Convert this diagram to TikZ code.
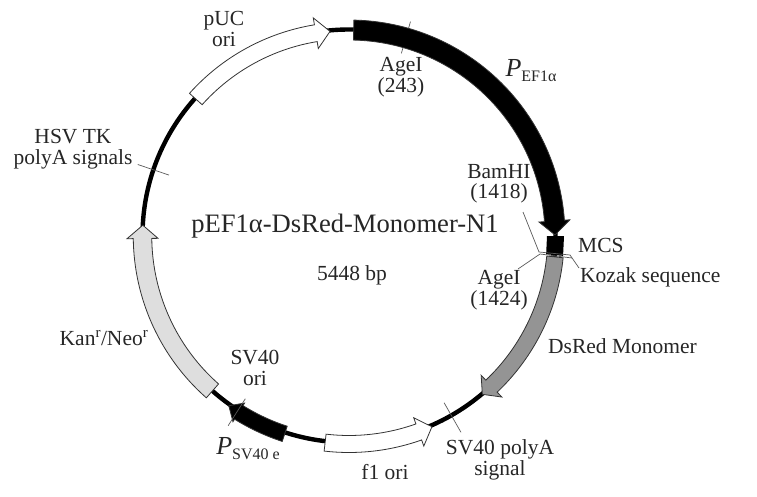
\documentclass[tikz,border=0pt]{standalone}
\usepackage{fontspec}
\setmainfont{Liberation Serif}
\newcommand{\ArcArrow}[7]{% tail, tip, headbase, radius, body width, head width, fill
  \pgfmathsetmacro{\ro}{#4+#5/2}\pgfmathsetmacro{\ri}{#4-#5/2}
  \pgfmathsetmacro{\hoo}{#4+#6/2}\pgfmathsetmacro{\hii}{#4-#6/2}
  \draw[arrowline,fill=#7] (#1:\ro pt) arc[start angle=#1,end angle=#3,radius=\ro pt]
    -- (#3:\hoo pt) -- (#2:#4 pt) -- (#3:\hii pt) -- (#3:\ri pt)
    arc[start angle=#3,end angle=#1,radius=\ri pt] -- cycle;}
\newcommand{\Tick}[3]{\draw[tickline] (#1:#2 pt) -- (#1:#3 pt);}
\newcommand{\PLab}[2]{\fontsize{26}{28}\selectfont\textit{P}\raisebox{-5pt}{\fontsize{16}{18}\selectfont #1#2}}
\tikzset{
  x=1pt,y=1pt,
  arrowline/.style={draw=black!80,line width=0.8pt,line join=miter},
  tickline/.style={draw=black!65,line width=0.7pt},
  lab/.style={font=\fontsize{21.5}{20.5}\selectfont,align=center,inner sep=0pt,text=black!85},
  backbone/.style={draw=black,line width=4.4pt}
}
\begin{document}
\begin{tikzpicture}
\useasboundingbox (0,0) rectangle (757,-497);
\begin{scope}[shift={(349,-236)}]
\draw[backbone] (0,0) circle[radius=206.5pt];
\Tick{74}{190}{223}
\Tick{161.3}{190}{223}
\Tick{299.7}{192}{226}
\ArcArrow{138.2}{95.3}{99.3}{205.5}{17}{31}{white}
\ArcArrow{88.7}{0.3}{4.2}{206}{20}{31}{black}
\ArcArrow{-5.8}{-49.9}{-46.5}{207}{16.5}{30}{black!42}
\ArcArrow{228.6}{177}{180.7}{206.5}{18.5}{31}{black!13}
\ArcArrow{263.4}{293.5}{289.6}{208}{17}{30}{white}
\ArcArrow{252}{234.7}{238}{208}{16}{22}{black}
\fill[black] (0:198pt) -- (0:215pt) -- (-5.3:215pt) -- (-5.3:198pt) -- cycle;
\Tick{237.5}{193}{225}
\end{scope}
\coordinate (bamA) at (523,-212);
\coordinate (bamB) at (539,-252);
\coordinate (kozB) at (570,-255);
\coordinate (kozC) at (579,-268);
\draw[tickline] (bamA) -- (bamB) -- (kozB) -- (kozC);
\coordinate (ageA) at (518,-269);
\coordinate (ageB) at (540,-254);
\coordinate (ageC) at (572,-258);
\draw[tickline] (ageA) -- (ageB) -- (ageC);
\node[lab,font=\fontsize{26.6}{28}\selectfont] (title) at (345,-226) {pEF1α-DsRed-Monomer-N1};
\node[lab] (bp) at (352,-275) {5448 bp};
\node[lab] (puc) at (224,-29) {pUC\\ori};
\node[lab] (age1) at (401,-77) {AgeI\\(243)};
\node[lab] (pef) at (531,-71) {\PLab{EF1}{α}};
\node[lab] (bam) at (499,-184) {BamHI\\(1418)};
\node[lab,anchor=west] (mcs) at (578,-245) {MCS};
\node[lab,anchor=west] (koz) at (580,-277) {Kozak sequence};
\node[lab] (age2) at (499,-290) {AgeI\\(1424)};
\node[lab,anchor=west] (ds) at (548,-346) {DsRed Monomer};
\node[lab] (sv) at (500,-460) {SV40 polyA\\signal};
\node[lab] (f1) at (385,-472) {f1 ori};
\node[lab] (pse) at (248,-449) {\PLab{SV40 e}{}};
\node[lab] (svo) at (255,-368) {SV40\\ori};
\node[lab] (kan) at (104,-338) {Kan\textsuperscript{r}/Neo\textsuperscript{r}};
\node[lab] (hsv) at (73,-149) {HSV TK\\polyA signals};
\end{tikzpicture}
\end{document}
